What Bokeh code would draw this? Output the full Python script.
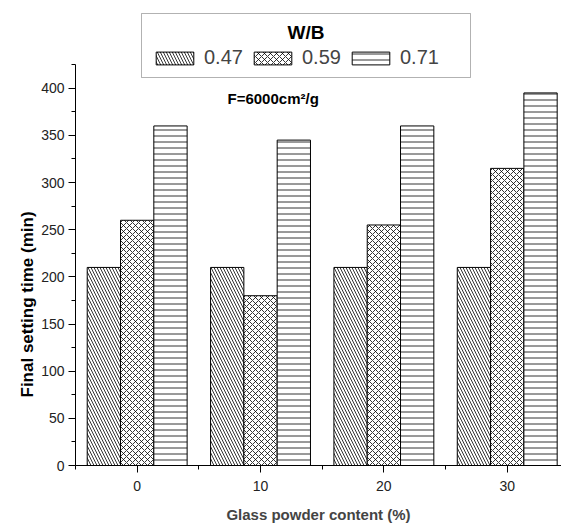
from bokeh.plotting import figure
from bokeh.models import (BoxAnnotation, ColumnDataSource, FixedTicker, Label, Legend,
                          LegendItem, Range1d, Title)
from bokeh.embed import file_html
from bokeh.resources import INLINE

categories = [0, 10, 20, 30]
wb_labels = ["0.47", "0.59", "0.71"]
vals_047 = [210, 210, 210, 210]
vals_059 = [260, 180, 255, 315]
vals_071 = [360, 345, 360, 395]
hatches = ["\\", "x", "-"]

FONT = "Liberation Sans"
bar_w = 2.7
offsets = [-bar_w, 0.0, bar_w]

p = figure(width=561, height=526, output_backend="svg", toolbar_location=None,
           x_range=Range1d(-5, 34.4), y_range=Range1d(0, 493),
           min_border_left=75, min_border_right=0, min_border_top=0, min_border_bottom=61)
p.outline_line_color = None
p.grid.grid_line_color = None
p.background_fill_color = "white"

renderers = []
for vals, off, hp in zip([vals_047, vals_059, vals_071], offsets, hatches):
    src = ColumnDataSource(dict(x=[c + off for c in categories], top=vals))
    r = p.vbar(x="x", top="top", width=bar_w, bottom=0, source=src,
               fill_color="white", line_color="black", line_width=1,
               hatch_pattern=hp, hatch_color="black", hatch_scale=6, hatch_weight=0.8)
    renderers.append(r)

p.xaxis.ticker = FixedTicker(ticks=categories, minor_ticks=[-5, 5, 15, 25, 35])
p.yaxis.ticker = FixedTicker(ticks=list(range(0, 401, 50)), minor_ticks=list(range(25, 426, 50)))
p.yaxis.bounds = (0, 425)
for ax in (p.xaxis[0], p.yaxis[0]):
    ax.axis_line_color = "black"
    ax.major_tick_line_color = "black"
    ax.minor_tick_line_color = "black"
    ax.major_tick_in = 0
    ax.major_tick_out = 7
    ax.minor_tick_in = 0
    ax.minor_tick_out = 4
    ax.major_label_text_font = FONT
    ax.major_label_text_font_size = "14px"
    ax.major_label_text_color = "#222222"
p.xaxis.major_label_standoff = 8
p.yaxis.major_label_standoff = 4

p.xaxis.axis_label = "Glass powder content (%)"
p.xaxis.axis_label_text_font = FONT
p.xaxis.axis_label_text_font_style = "bold"
p.xaxis.axis_label_text_font_size = "15px"
p.xaxis.axis_label_standoff = 12

ytitle = Title(text="Final setting time (min)", align="left", offset=68,
               text_font=FONT, text_font_style="bold", text_font_size="17px",
               text_color="black", standoff=4)
p.add_layout(ytitle, "left")

note = Label(x=152, y=367, x_units="screen", y_units="screen", text="F=6000cm²/g",
             text_font=FONT, text_font_style="bold", text_font_size="15px",
             text_align="left", text_baseline="middle", text_color="black")
p.add_layout(note)

# legend frame (screen units, relative to plot frame)
legend_box = BoxAnnotation(left=66, right=395, bottom=388, top=452,
                           left_units="screen", right_units="screen",
                           bottom_units="screen", top_units="screen",
                           fill_color="white", fill_alpha=1, line_color="black",
                           line_width=1, level="underlay", editable=False)
p.add_layout(legend_box)

legend = Legend(items=[LegendItem(label=l, renderers=[r]) for l, r in zip(wb_labels, renderers)],
                orientation="horizontal", location=(76, 396), title=" ",
                title_text_font_size="16px", title_standoff=4,
                glyph_width=47, glyph_height=16, label_standoff=6, spacing=5,
                label_width=40, padding=8, margin=0,
                label_text_font=FONT, label_text_font_size="20px",
                border_line_color=None, background_fill_alpha=0)
p.add_layout(legend, "center")

wb = Label(x=230.5, y=433, x_units="screen", y_units="screen", text="W/B",
           text_font=FONT, text_font_style="bold", text_font_size="19px",
           text_align="center", text_baseline="middle", text_color="black")
p.add_layout(wb)

open("out.html", "w").write(file_html(p, INLINE))
